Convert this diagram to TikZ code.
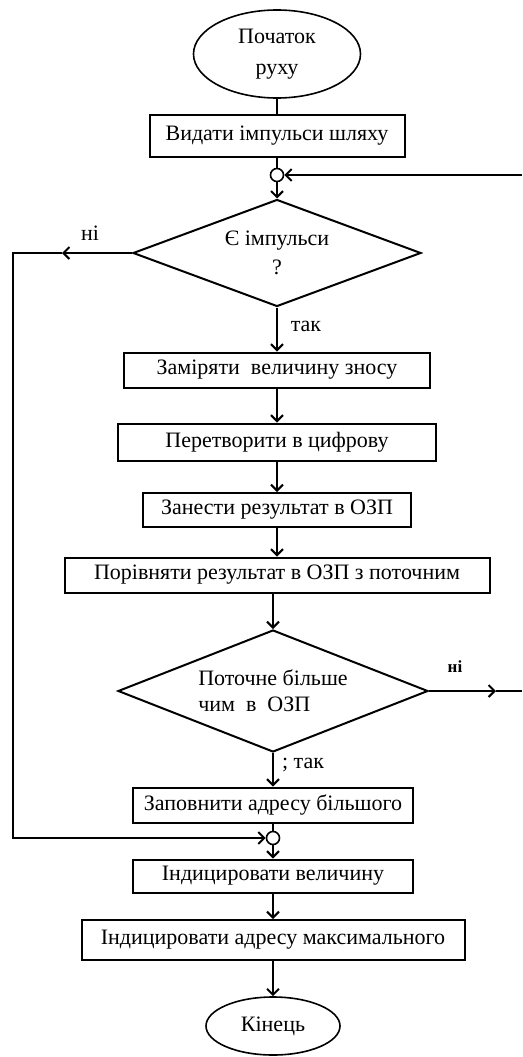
\documentclass[tikz,border=0pt]{standalone}
\usepackage{fontspec}
\setmainfont{Liberation Serif}
\usetikzlibrary{shapes.geometric,arrows.meta}
\begin{document}
\begin{tikzpicture}[x=1pt,y=-1pt,line width=2pt,
  font=\fontsize{22}{26}\selectfont,
  >={Straight Barb[length=6pt,width=12pt]},
  blk/.style={draw,rectangle,inner sep=0pt},
  cond/.style={draw,diamond,inner sep=0pt,align=left},
  term/.style={draw,ellipse,inner sep=0pt,line width=1.6pt,align=center},
  jn/.style={draw,circle,inner sep=0pt,minimum size=13pt,line width=1.6pt}]
\useasboundingbox (0,0) rectangle (522,1057);
\node[term,minimum width=167pt,minimum height=88pt,font=\fontsize{22}{31}\selectfont] (S) at (277,54) {Початок\\руху};
\node[blk,minimum width=255pt,minimum height=42pt] (B1) at (277,136) {Видати імпульси шляху};
\node[jn] (J1) at (277,175) {};
\coordinate (R1) at (522,175);
\node[cond,aspect=2.7,minimum width=288pt,minimum height=107pt,align=center,font=\fontsize{22}{29}\selectfont] (D1) at (277,253) {Є імпульси\\?};
\coordinate (T1) at (62,253);
\coordinate (L1) at (13,253);
\node (N1) at (90,233) {ні};
\node (Y1) at (306,326) {так};
\node[blk,minimum width=306pt,minimum height=35pt] (B2) at (277,370) {Заміряти\ \ величину зносу};
\node[blk,minimum width=318pt,minimum height=37pt] (B3) at (277,442) {Перетворити в цифрову};
\node[blk,minimum width=268pt,minimum height=34pt] (B4) at (277,510) {Занести результат в ОЗП};
\node[blk,minimum width=425pt,minimum height=35pt] (B5) at (277,575) {Порівняти результат в ОЗП з поточним};
\node[cond,aspect=2.5,minimum width=310pt,minimum height=122pt] (D2) at (273,691) {Поточне більше\\чим\ \ в\ \ ОЗП};
\coordinate (T2) at (496,691);
\coordinate (R2) at (522,691);
\node[font=\fontsize{17}{20}\selectfont\bfseries] (N2) at (455,667) {ні};
\node (Y2) at (303,765) {; так};
\node[blk,minimum width=280pt,minimum height=35pt] (B6) at (273,805) {Заповнити адресу більшого};
\node[jn] (J2) at (273,838) {};
\node[blk,minimum width=280pt,minimum height=33pt] (B7) at (273,876) {Індицировати величину};
\node[blk,minimum width=383pt,minimum height=40pt] (B8) at (273,940) {Індицировати адресу максимального};
\node[term,minimum width=134pt,minimum height=58pt] (E) at (273,1026) {Кінець};
\path
  (S) edge (B1)
  (B1) edge (J1)
  (R1) edge [->] (J1)
  (J1) edge [->] (D1)
  (D1) edge [->] (T1)
  (D1) edge [->] (B2)
  (B2) edge [->] (B3)
  (B3) edge [->] (B4)
  (B4) edge [->] (B5)
  (B5.south -| D2.north) edge [->] (D2)
  (D2) edge [->] (T2)
  (T2) edge (R2)
  (D2) edge [->] (B6)
  (B6) edge (J2)
  (J2) edge [->] (B7)
  (B7) edge [->] (B8)
  (B8) edge [->] (E)
;
\draw[->] (T1) -- (L1) |- (J2);
\end{tikzpicture}
\end{document}
